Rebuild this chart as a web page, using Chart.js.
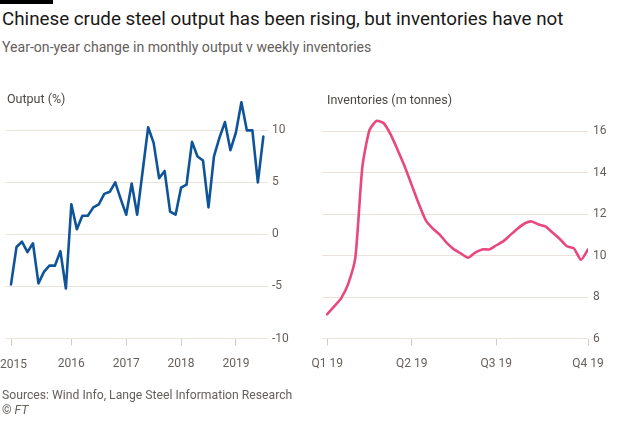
<!DOCTYPE html>
<html>
<head>
<meta charset="utf-8">
<script src="https://cdn.jsdelivr.net/npm/chart.js@4.4.0/dist/chart.umd.min.js"></script>
<style>
    body { margin: 0; width: 630px; height: 426px; background: #fff; position: relative; overflow: hidden; font-family: Roboto, sans-serif; }
    .topbar { position: absolute; left: 0; top: 0; width: 53px; height: 4px; background: #000; }
    .title { position: absolute; left: 2px; top: 8px; font-size: 18.8px; color: #1a1817; white-space: nowrap; }
    .subtitle { position: absolute; left: 2px; top: 39px; font-size: 14.1px; color: #66605c; white-space: nowrap; }
    .label { position: absolute; font-size: 12.5px; color: #4d4845; white-space: nowrap; }
    .tick { position: absolute; font-size: 12px; color: #66605c; }
    .source { position: absolute; left: 2px; font-size: 12.2px; color: #66605c; white-space: nowrap; }
    canvas { position: absolute; }
</style>
</head>
<body>
<div class="topbar"></div>
<div class="title">Chinese crude steel output has been rising, but inventories have not</div>
<div class="subtitle">Year-on-year change in monthly output v weekly inventories</div>

<canvas id="outputChart" width="300" height="290" style="left:0;top:88px"></canvas>
<canvas id="inventoryChart" width="330" height="290" style="left:300px;top:88px"></canvas>

<div class="label" style="left:7px;top:91px">Output (%)</div>
<div class="label" style="left:327px;top:92px">Inventories (m tonnes)</div>
<div class="tick" id="firstYear" style="left:0;top:357px"></div>

<div class="source" style="top:388px">Sources: Wind Info, Lange Steel Information Research</div>
<div class="source" style="top:403px">© <i>FT</i></div>

<script>
// output: year-on-year change, %
const outputValues = [
    -4.8, -1.2, -0.7, -1.7, -0.85, -4.7, -3.6, -3.0, -3.0, -1.6, -5.2,
    2.9, 0.5, 1.8, 1.8, 2.6, 2.9, 3.9, 4.1, 5.0, 3.4,
    1.9, 4.9, 1.9, 6.1, 10.3, 8.8, 5.4, 6.1, 2.2, 1.9,
    4.5, 4.8, 8.9, 7.5, 7.1, 2.6, 7.5, 9.3, 10.8, 8.1,
    9.8, 12.7, 10.0, 10.0, 5.0, 9.4
];
const outputYears = ['2015', '2016', '2017', '2018', '2019'];
const outputYearIdx = [0, 11, 21, 31, 41];
const outputTicks = [-10, -5, 0, 5, 10];

// inventories: weekly, m tonnes
const inventoryValues = [
    7.17, 7.55, 7.95, 8.65, 9.9, 14.3, 16.05, 16.5, 16.4, 15.85,
    15.1, 14.3, 13.4, 12.5, 11.7, 11.3, 11.0, 10.6, 10.3, 10.1,
    9.9, 10.15, 10.3, 10.3, 10.5, 10.7, 11.0, 11.3, 11.55, 11.65,
    11.5, 11.4, 11.1, 10.8, 10.45, 10.35, 9.8, 10.3
];
const quarterLabels = ['Q1 19', 'Q2 19', 'Q3 19', 'Q4 19'];
const quarterIdx = [0, 12, 24, 37];
const inventoryTicks = [6, 8, 10, 12, 14, 16];

const gridColor = '#ebe2da';
const tickMarkColor = '#d6ccc3';
const tickText = '#66605c';
const tickFont = { family: 'Roboto', size: 12 };

// first year label is nudged inside the page like the original
document.getElementById('firstYear').textContent = outputYears[0];

function makeChart(id, values, color, xOpts, yOpts, pad) {
    const ctx = document.getElementById(id).getContext('2d');
    return new Chart(ctx, {
        type: 'line',
        data: {
            datasets: [{
                data: values.map((v, i) => ({ x: i, y: v })),
                borderColor: color,
                borderWidth: 2.6,
                pointRadius: 0,
                tension: xOpts.tension,
                borderJoinStyle: 'round',
                borderCapStyle: 'round'
            }]
        },
        options: {
            responsive: false,
            animation: false,
            layout: { autoPadding: false, padding: pad },
            plugins: { legend: { display: false }, tooltip: { enabled: false } },
            scales: {
                x: {
                    type: 'linear',
                    min: xOpts.min,
                    max: xOpts.max,
                    afterBuildTicks: axis => { axis.ticks = xOpts.idx.map(v => ({ value: v })); },
                    afterFit: axis => { axis.height = 34; },
                    border: { display: false },
                    grid: { drawOnChartArea: false, drawTicks: true, tickLength: 7, color: tickMarkColor },
                    ticks: {
                        autoSkip: false,
                        maxRotation: 0,
                        padding: 11,
                        color: tickText,
                        font: tickFont,
                        callback: xOpts.label
                    }
                },
                y: {
                    position: 'right',
                    min: yOpts.min,
                    max: yOpts.max,
                    afterBuildTicks: axis => { axis.ticks = yOpts.ticks.map(v => ({ value: v })); },
                    afterFit: axis => { axis.width = yOpts.width; },
                    border: { display: false },
                    grid: { color: gridColor, drawTicks: false, lineWidth: 1 },
                    ticks: { padding: yOpts.padding, color: tickText, font: tickFont }
                }
            }
        }
    });
}

makeChart('outputChart', outputValues, '#0f5499',
    {
        min: -1, max: 46.85, idx: outputYearIdx, tension: 0,
        label: v => { const i = outputYearIdx.indexOf(v); return i > 0 ? outputYears[i] : ''; }
    },
    { min: -10, max: 13, ticks: outputTicks, width: 32, padding: 4 },
    { left: 1, top: 6, right: 0, bottom: 5.5 });

makeChart('inventoryChart', inventoryValues, '#e8477f',
    {
        min: -0.71, max: 37, idx: quarterIdx, tension: 0.2,
        label: v => quarterLabels[quarterIdx.indexOf(v)]
    },
    { min: 6, max: 17.5, ticks: inventoryTicks, width: 42, padding: 5 },
    { left: 21.7, top: 6, right: 0, bottom: 5.5 });
</script>
</body>
</html>
